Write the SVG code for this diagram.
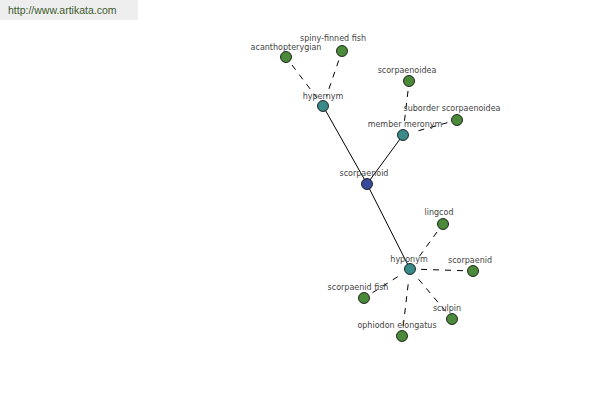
<svg xmlns="http://www.w3.org/2000/svg" width="600" height="400" viewBox="0 0 600 400">
<style>
.lbl{font-family:"DejaVu Sans",Verdana,sans-serif;font-size:8px;fill:#444;text-anchor:middle}
.solid{stroke:#000;stroke-width:1;fill:none}
.dash{stroke:#000;stroke-width:1;stroke-dasharray:6,6;fill:none}
.hub{fill:#3a8a8a;stroke:#000;stroke-width:0.8}
.leaf{fill:#4a8a3a;stroke:#000;stroke-width:0.8}
.root{fill:#3a4a9a;stroke:#000;stroke-width:0.8}
</style>
<rect x="0" y="0" width="138" height="20" fill="#eeeeee"/>
<text x="8" y="14" font-family="Liberation Sans, Arial, sans-serif" font-size="10.5" fill="#3d5a2d">http://www.artikata.com</text>
<g id="connectors">
<line class="solid" x1="367" y1="184" x2="323" y2="106"/>
<line class="solid" x1="367" y1="184" x2="403" y2="135"/>
<line class="solid" x1="367" y1="184" x2="410" y2="269"/>
<line class="dash" x1="292" y1="65" x2="317" y2="98"/>
<line class="dash" x1="338.7" y1="60.5" x2="326.3" y2="96.5"/>
<line class="dash" x1="408" y1="91" x2="404" y2="125"/>
<line class="dash" x1="447.4" y1="122.7" x2="412.6" y2="132.3"/>
<line class="dash" x1="437" y1="232" x2="416" y2="261"/>
<line class="dash" x1="463" y1="270.7" x2="420" y2="269.3"/>
<line class="dash" x1="372.5" y1="292.7" x2="401.5" y2="274.3"/>
<line class="dash" x1="445.6" y1="311.3" x2="416.4" y2="276.7"/>
<line class="dash" x1="403.2" y1="326" x2="408.8" y2="279"/>
</g>
<g id="scorpaenoid"><circle class="root" cx="367" cy="184" r="5.5"/><text class="lbl" x="364" y="176">scorpaenoid</text></g>
<g id="hypernym"><circle class="hub" cx="323" cy="106" r="5.5"/><text class="lbl" x="323" y="99">hypernym</text></g>
<g id="member-meronym"><circle class="hub" cx="403" cy="135" r="5.5"/><text class="lbl" x="405" y="127">member meronym</text></g>
<g id="hyponym"><circle class="hub" cx="410" cy="269" r="5.5"/><text class="lbl" x="409" y="262">hyponym</text></g>
<g id="acanthopterygian"><circle class="leaf" cx="286" cy="57" r="5.5"/><text class="lbl" x="286" y="50">acanthopterygian</text></g>
<g id="spiny-finned-fish"><circle class="leaf" cx="342" cy="51" r="5.5"/><text class="lbl" x="333" y="41">spiny-finned fish</text></g>
<g id="scorpaenoidea"><circle class="leaf" cx="409" cy="81" r="5.5"/><text class="lbl" x="407" y="73">scorpaenoidea</text></g>
<g id="suborder-scorpaenoidea"><circle class="leaf" cx="457" cy="120" r="5.5"/><text class="lbl" x="452" y="111">suborder scorpaenoidea</text></g>
<g id="lingcod"><circle class="leaf" cx="443" cy="224" r="5.5"/><text class="lbl" x="439" y="215">lingcod</text></g>
<g id="scorpaenid"><circle class="leaf" cx="473" cy="271" r="5.5"/><text class="lbl" x="470" y="263">scorpaenid</text></g>
<g id="scorpaenid-fish"><circle class="leaf" cx="364" cy="298" r="5.5"/><text class="lbl" x="358" y="290">scorpaenid fish</text></g>
<g id="sculpin"><circle class="leaf" cx="452" cy="319" r="5.5"/><text class="lbl" x="447" y="311">sculpin</text></g>
<g id="ophiodon-elongatus"><circle class="leaf" cx="402" cy="336" r="5.5"/><text class="lbl" x="397" y="328">ophiodon elongatus</text></g>
</svg>
